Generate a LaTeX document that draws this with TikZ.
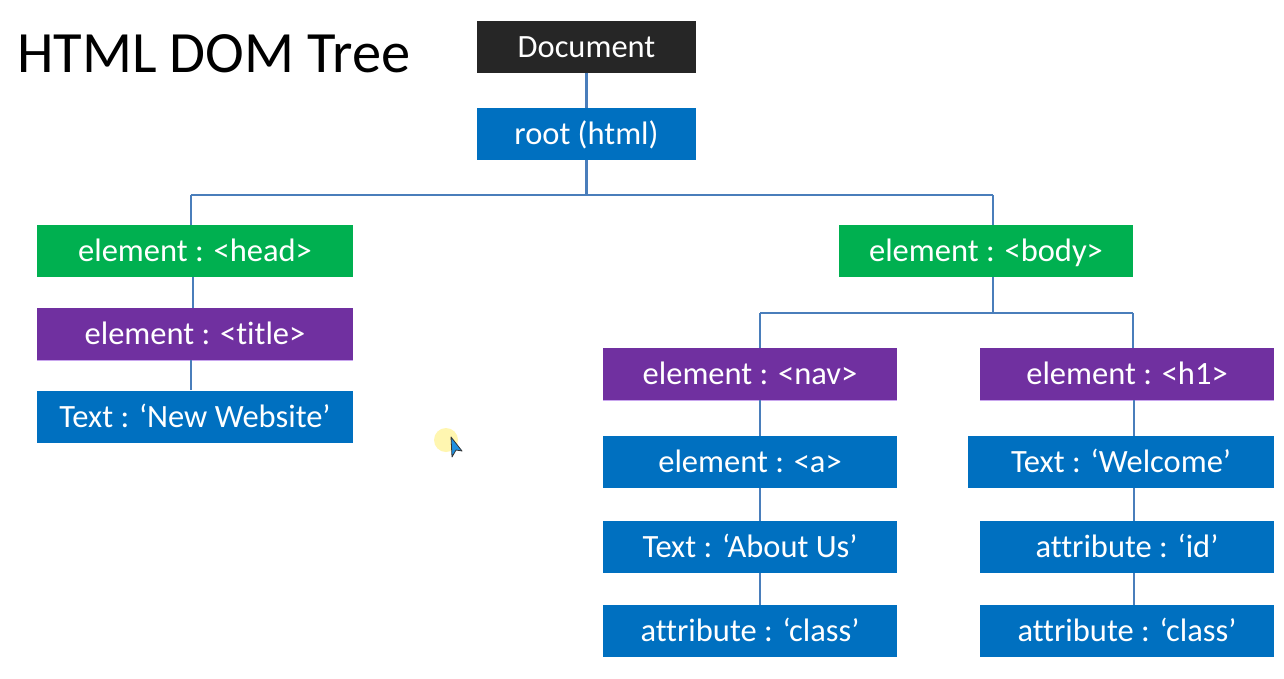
\documentclass[tikz,border=0pt]{standalone}
\usepackage{fontspec}
\setmainfont{Carlito}[Ligatures=NoCommon]
\definecolor{docblack}{HTML}{262626}
\definecolor{domblue}{HTML}{0070C0}
\definecolor{domgreen}{HTML}{00B050}
\definecolor{dompurple}{HTML}{7030A0}
\definecolor{lavender}{HTML}{C9A6EE}
\definecolor{linkblue}{HTML}{4A7EBB}
\definecolor{cursorblue}{HTML}{1E90E0}
\definecolor{halo}{HTML}{FFF6B0}
\tikzset{
  bx/.style={rectangle, inner sep=0pt, minimum height=52pt, text=white,
    text height=24pt, text depth=3pt,
    font=\fontsize{32.5}{36}\selectfont},
  bxblue/.style={bx, fill=domblue},
  bxgreen/.style={bx, fill=domgreen},
  bxpurple/.style={bx, fill=dompurple},
  link/.style={draw=linkblue, line width=2.4pt},
}
\begin{document}
\begin{tikzpicture}[x=1pt,y=-1pt]
\useasboundingbox[fill=white] (0,0) rectangle (1284,678);
% title
\node[anchor=base west, inner sep=0pt, font=\fontsize{58.5}{64}\selectfont] (title) at (17,72) {HTML DOM Tree};
% nodes
\node[bx, fill=docblack, minimum width=219pt] (doc) at (586.5,46.5) {Document};
\node[bxblue, minimum width=219pt] (root) at (586.5,134) {root (html)};
\node[bxgreen, minimum width=316pt] (head) at (195,251) {element : <head>};
\node[bxpurple, minimum width=316pt] (titl) at (195,334) {element : <title>};
\node[bxblue, minimum width=316pt] (newweb) at (195,416.5) {Text : ‘New Website’};
\node[bxgreen, minimum width=294pt] (body) at (986,251) {element : <body>};
\node[bxpurple, minimum width=294pt] (nav) at (750,374) {element : <nav>};
\node[bxpurple, minimum width=294pt] (hone) at (1127,374) {element : <h1>};
\node[bxblue, minimum width=294pt] (anode) at (750,462) {element : <a>};
\node[bxblue, minimum width=294pt] (about) at (750,547) {Text : ‘About Us’};
\node[bxblue, minimum width=294pt] (cls1) at (750,631) {attribute : ‘class’};
\node[bxblue, minimum width=306pt] (welcome) at (1121,462) {Text : ‘Welcome’};
\node[bxblue, minimum width=294pt] (idattr) at (1127,547) {attribute : ‘id’};
\node[bxblue, minimum width=294pt] (cls2) at (1127,631) {attribute : ‘class’};
% lavender bottom edges of purple boxes
\foreach \n in {titl,nav,hone}{
  \draw[lavender, line width=1.2pt] (\n.south west) -- (\n.south east);
}
% connectors
\coordinate (hbar) at (0,195);
\coordinate (bbar) at (0,313);
\draw[link] (doc.south) -- (root.north);
\draw[link] (root.south) -- (root.south |- hbar);
\draw[link] ([xshift=-4pt]head.north |- hbar) -- ([xshift=7pt]body.north |- hbar);
\draw[link] ([xshift=-4pt]head.north |- hbar) -- ([xshift=-4pt]head.north);
\draw[link] ([xshift=7pt]body.north |- hbar) -- ([xshift=7pt]body.north);
\draw[link] ([xshift=-2pt]head.south) -- ([xshift=-2pt]titl.north);
\draw[link] ([xshift=-4pt]titl.south) -- ([xshift=-4pt]newweb.north);
\draw[link] ([xshift=7pt]body.south) -- ([xshift=7pt]body.south |- bbar);
\draw[link] ([xshift=10pt]nav.north |- bbar) -- ([xshift=6pt]hone.north |- bbar);
\draw[link] ([xshift=10pt]nav.north |- bbar) -- ([xshift=10pt]nav.north);
\draw[link] ([xshift=6pt]hone.north |- bbar) -- ([xshift=6pt]hone.north);
\draw[link] ([xshift=10pt]nav.south) -- ([xshift=10pt]anode.north);
\draw[link] ([xshift=10pt]anode.south) -- ([xshift=10pt]about.north);
\draw[link] ([xshift=10pt]about.south) -- ([xshift=10pt]cls1.north);
\draw[link] ([xshift=7pt]hone.south) -- ([xshift=13pt]welcome.north);
\draw[link] ([xshift=13pt]welcome.south) -- ([xshift=7pt]idattr.north);
\draw[link] ([xshift=7pt]idattr.south) -- ([xshift=7pt]cls2.north);
% mouse cursor
\fill[halo] (446,440) circle (12pt);
\draw[fill=cursorblue, draw=black!80, line width=0.8pt, line join=round]
  (451,437) -- (462,451) -- (456,450) -- (452,457) -- cycle;
\end{tikzpicture}
\end{document}
